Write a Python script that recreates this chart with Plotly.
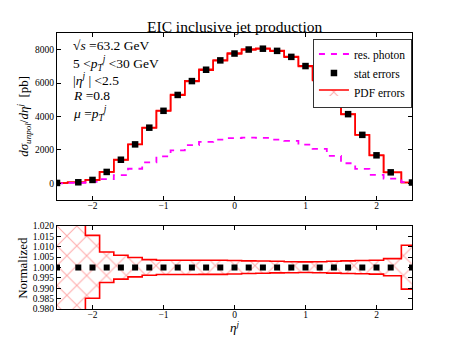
import plotly.graph_objects as go

SERIF = "Liberation Serif"

# eta^j points (bin centres, edge points at +-2.5)
eta = [-2.5, -2.2, -2.0, -1.8, -1.6, -1.4, -1.2, -1.0, -0.8, -0.6, -0.4, -0.2,
       0.0, 0.2, 0.4, 0.6, 0.8, 1.0, 1.2, 1.4, 1.6, 1.8, 2.0, 2.2, 2.5]

# d sigma / d eta [pb]
xsec = [20, 60, 200, 680, 1410, 2330, 3330, 4340, 5290, 6120, 6800, 7360,
        7770, 8010, 8060, 7930, 7570, 7020, 6180, 5250, 4140, 2900, 1675, 655, 45]

# resolved photon contribution [pb]
res_photon = [0, 20, 90, 250, 490, 870, 1250, 1610, 1970, 2280, 2480, 2620,
              2700, 2740, 2720, 2620, 2540, 2320, 2060, 1640, 1200, 860, 500, 280, 70]

# stat errors [pb]
stat_err = [3, 6, 12, 20, 30, 38, 45, 50, 55, 58, 60, 62,
            63, 64, 64, 63, 62, 60, 56, 52, 46, 38, 28, 18, 5]

# relative PDF uncertainty (upper / lower)
pdf_up_rel = [0.05, 0.05, 0.0155, 0.0075, 0.0059, 0.0048, 0.0038, 0.0035, 0.0035, 0.0035, 0.0035, 0.0035,
              0.0034, 0.0032, 0.0031, 0.0030, 0.0028, 0.0027, 0.0028, 0.0030, 0.0032, 0.0034, 0.0035, 0.0043, 0.0107]
pdf_dn_rel = [0.05, 0.05, 0.0148, 0.0072, 0.0056, 0.0045, 0.0037, 0.0034, 0.0034, 0.0034, 0.0033, 0.0033,
              0.0031, 0.0029, 0.0028, 0.0026, 0.0025, 0.0024, 0.0025, 0.0027, 0.0029, 0.0030, 0.0032, 0.0040, 0.0104]

up_abs = [v * (1 + r) for v, r in zip(xsec, pdf_up_rel)]
dn_abs = [v * (1 - r) for v, r in zip(xsec, pdf_dn_rel)]
up_norm = [1 + r for r in pdf_up_rel]
dn_norm = [1 - r for r in pdf_dn_rel]
ones = [1.0 for _ in eta]

fig = go.Figure()

# top panel
fig.add_trace(go.Scatter(x=eta, y=dn_abs, mode="lines", line=dict(color="red", width=1.6, shape="hvh"),
                         showlegend=False, xaxis="x", yaxis="y"))
fig.add_trace(go.Scatter(x=eta, y=up_abs, mode="lines", line=dict(color="red", width=1.6, shape="hvh"),
                         showlegend=False, xaxis="x", yaxis="y"))
fig.add_trace(go.Scatter(x=eta, y=res_photon, mode="lines", name="res. photon",
                         line=dict(color="#ff00ff", width=1.8, dash="6px,6px", shape="hvh"),
                         legendrank=1, xaxis="x", yaxis="y"))
fig.add_trace(go.Scatter(x=eta, y=xsec, mode="markers", name="stat errors",
                         marker=dict(symbol="square", size=6.5, color="black"),
                         error_y=dict(type="data", array=stat_err, color="black", thickness=1.2, width=2),
                         legendrank=2, xaxis="x", yaxis="y"))

# bottom panel (normalized)
fig.add_trace(go.Scatter(x=eta, y=dn_norm, mode="lines", line=dict(color="red", width=1.6, shape="hvh"),
                         showlegend=False, xaxis="x2", yaxis="y2"))
fig.add_trace(go.Scatter(x=eta, y=up_norm, mode="lines", name="PDF errors",
                         line=dict(color="red", width=1.6, shape="hvh"),
                         fill="tonexty", fillcolor="rgba(0,0,0,0)",
                         fillpattern=dict(shape="x", fgcolor="rgba(255,40,40,0.8)", bgcolor="rgba(0,0,0,0)",
                                          size=14, solidity=0.14),
                         legendrank=3, xaxis="x2", yaxis="y2"))
fig.add_trace(go.Scatter(x=eta, y=ones, mode="markers",
                         marker=dict(symbol="square", size=6, color="black"),
                         showlegend=False, xaxis="x2", yaxis="y2"))

axis_style = dict(showline=True, linecolor="black", linewidth=1, mirror="ticks",
                  ticks="inside", ticklen=4, tickcolor="black", showgrid=False, zeroline=False,
                  tickfont=dict(family=SERIF, size=9.5, color="black"))

# page body has an 8px margin, so the figure is 8px smaller than the window
fig.update_layout(
    width=449, height=335,
    margin=dict(l=49, r=45, t=25, b=34),
    paper_bgcolor="white", plot_bgcolor="white",
    font=dict(family=SERIF, color="black"),
    xaxis=dict(domain=[0, 1], anchor="y", range=[-2.5, 2.5], tickvals=[-2, -1, 0, 1, 2],
               ticklabelstandoff=-3, **axis_style),
    yaxis=dict(domain=[0.395, 1], anchor="x", range=[-1000, 9000],
               tickvals=[0, 2000, 4000, 6000, 8000], **axis_style),
    xaxis2=dict(domain=[0, 1], anchor="y2", range=[-2.5, 2.5], tickvals=[-2, -1, 0, 1, 2],
                ticklabelstandoff=-3, **axis_style),
    yaxis2=dict(domain=[0, 0.3007], anchor="x2", range=[0.98, 1.02],
                tickvals=[0.98, 0.985, 0.99, 0.995, 1.0, 1.005, 1.01, 1.015, 1.02],
                tickformat=".3f", **axis_style),
    legend=dict(x=0.721, y=0.98, xanchor="left", yanchor="top", traceorder="normal",
                bgcolor="white", bordercolor="#333333", borderwidth=1,
                font=dict(family=SERIF, size=11.5, color="black"),
                tracegroupgap=0),
    showlegend=True,
)

annotations = [
    dict(text="EIC inclusive jet production", x=0.5, y=1.025, xanchor="center", yanchor="middle",
         font=dict(size=15.5)),
    dict(text="√<i>s</i> =63.2 GeV", x=0.04, y=0.953),
    dict(text="5 &lt;<i>p</i><sub><i>T</i></sub><sup><i>j</i></sup> &lt;30 GeV", x=0.04, y=0.891),
    dict(text="|<i>η</i><sup><i>j</i></sup> | &lt;2.5", x=0.04, y=0.830),
    dict(text="<i>R</i> =0.8", x=0.04, y=0.772),
    dict(text="<i>μ</i> =<i>p</i><sub><i>T</i></sub><sup><i>j</i></sup>", x=0.04, y=0.710),
    dict(text="<i>dσ</i><sub><i>unpol</i></sub>/<i>dη</i><sup><i>j</i></sup>  [pb]",
         x=-0.092, y=0.6975, xanchor="center", textangle=-90, font=dict(size=13)),
    dict(text="Normalized", x=-0.098, y=0.15, xanchor="center", textangle=-90, font=dict(size=13)),
    dict(text="<i>η</i><sup><i>j</i></sup>", x=0.5, y=-0.065, xanchor="center", font=dict(size=13)),
]
for a in annotations:
    a.setdefault("xanchor", "left")
    a.setdefault("yanchor", "middle")
    a.setdefault("font", dict(size=13.5))
    a["font"] = dict(family=SERIF, color="black", **a["font"])
    fig.add_annotation(xref="paper", yref="paper", showarrow=False, **a)

fig.write_html("out.html")
